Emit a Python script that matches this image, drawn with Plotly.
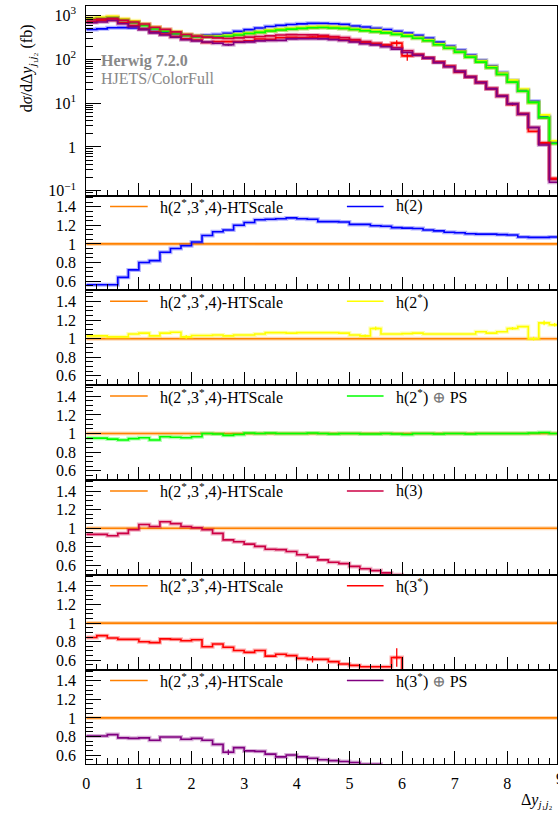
import numpy as np
import plotly.graph_objects as go

# bins of Delta y_j1j2, width 0.2 from 0 to 9
edges = np.round(np.arange(0, 9.001, 0.2), 2)

# reference h(2*,3*,4)-HTScale, dsigma/dDy in fb
ref_xs = [850, 880, 930, 820, 715, 610, 525, 450, 400, 360,
          335, 325, 325, 340, 360, 385, 410, 440, 465, 485,
          505, 520, 530, 520, 505, 475, 450, 425, 400, 370,
          340, 300, 265, 215, 178, 145, 112, 86, 64, 45,
          30, 18.6, 10.3, 4.6, 1.2]

# ratios to the reference
r_h2 = [0.56, 0.56, 0.56, 0.64, 0.72, 0.80, 0.82, 0.91, 0.95, 0.98,
        1.02, 1.09, 1.13, 1.15, 1.20, 1.23, 1.26, 1.265, 1.27, 1.28,
        1.27, 1.265, 1.24, 1.24, 1.235, 1.21, 1.21, 1.195, 1.19, 1.175,
        1.17, 1.165, 1.15, 1.14, 1.125, 1.12, 1.11, 1.105, 1.105, 1.10,
        1.095, 1.075, 1.07, 1.07, 1.075]
r_h2s = [1.03, 1.03, 1.02, 1.02, 1.05, 1.06, 1.03, 1.06, 1.07, 1.02,
         1.035, 1.035, 1.04, 1.03, 1.04, 1.04, 1.05, 1.065, 1.065, 1.06,
         1.065, 1.065, 1.065, 1.065, 1.06, 1.04, 1.03, 1.11, 1.05, 1.05,
         1.055, 1.06, 1.05, 1.05, 1.05, 1.05, 1.05, 1.075, 1.06, 1.075,
         1.11, 1.13, 1.0, 1.17, 1.15]
r_h2s_ps = [0.95, 0.95, 0.94, 0.93, 0.945, 0.955, 0.93, 0.965, 0.96, 0.955,
            0.965, 1.0, 0.995, 0.98, 0.99, 1.005, 1.0, 1.005, 1.0, 1.0,
            1.0, 1.005, 1.0, 0.995, 1.0, 1.0, 0.995, 0.995, 1.0, 0.995,
            0.99, 1.0, 1.0, 0.995, 1.0, 1.0, 0.995, 1.0, 1.0, 1.0,
            1.0, 1.0, 1.005, 1.01, 1.0]
r_h3 = [0.935, 0.935, 0.92, 0.945, 0.985, 1.04, 1.02, 1.07, 1.05, 1.02,
        1.005, 0.985, 0.945, 0.875, 0.855, 0.83, 0.805, 0.775, 0.77, 0.75,
        0.715, 0.69, 0.66, 0.635, 0.62, 0.59, 0.565, 0.545, 0.52, 0.50,
        0.46, 0.43, 0.41, 0.40, 0.39, 0.37, 0.36, 0.35, 0.34, 0.33,
        0.32, 0.31, 0.27, 0.26, 0.15]
r_h3s = [0.845, 0.865, 0.84, 0.825, 0.825, 0.80, 0.79, 0.83, 0.825, 0.81,
         0.82, 0.745, 0.775, 0.74, 0.705, 0.685, 0.705, 0.645, 0.665, 0.65,
         0.62, 0.61, 0.61, 0.585, 0.56, 0.545, 0.53, 0.53, 0.53, 0.63,
         0.35, 0.42, 0.40, 0.40, 0.39, 0.35, 0.35, 0.34, 0.33, 0.32,
         0.31, 0.30, 0.22, 0.27, 0.16]
r_h3s_ps = [0.805, 0.805, 0.82, 0.785, 0.78, 0.785, 0.76, 0.795, 0.795, 0.77,
            0.78, 0.76, 0.715, 0.63, 0.68, 0.645, 0.64, 0.61, 0.58, 0.60,
            0.58, 0.565, 0.55, 0.54, 0.53, 0.52, 0.50, 0.50, 0.48, 0.46,
            0.42, 0.41, 0.40, 0.39, 0.38, 0.36, 0.35, 0.34, 0.33, 0.32,
            0.32, 0.30, 0.27, 0.24, 0.13]

# statistical errors (ratio units), only visible ones
err_h2s = {9: 0.02, 26: 0.015, 27: 0.02, 40: 0.015, 42: 0.02, 43: 0.025, 44: 0.02}
err_h3s = {21: 0.035, 29: 0.1, 30: 0.08, 40: 0.02}
err_h3s_ps = {13: 0.03, 40: 0.02}

series = [
    ("h(2)", "#0000ff", r_h2, {}),
    ("h(2<sup>*</sup>)", "#ffff00", r_h2s, err_h2s),
    ("h(2<sup>*</sup>) <span style='color:#777'>⊕</span> PS", "#00ff00", r_h2s_ps, {}),
    ("h(3)", "#cc0044", r_h3, {}),
    ("h(3<sup>*</sup>)", "#ff0000", r_h3s, err_h3s),
    ("h(3<sup>*</sup>) <span style='color:#777'>⊕</span> PS", "#800080", r_h3s_ps, err_h3s_ps),
]
ref_name = "h(2<sup>*</sup>,3<sup>*</sup>,4)-HTScale"
ref_color = "#ff8000"

W, H = 558, 817
X0 = 83
XMAX = (W - X0) / 53.1
tops = [4, 195, 290.5, 386, 481.5, 577, 672.5]
bots = [195, 290.5, 386, 481.5, 577, 672.5, 768]
FONT = "Liberation Serif, DejaVu Serif, serif"


def step(vals):
    return list(edges), list(vals) + [vals[-1]]


def add_line(fig, vals, color, k):
    xs, ys = step(vals)
    ax = dict(xaxis="x" if k == 1 else "x%d" % k, yaxis="y" if k == 1 else "y%d" % k)
    fig.add_trace(go.Scatter(x=xs, y=ys, mode="lines", line=dict(color=color, width=4, shape="hv"),
                             opacity=0.3, hoverinfo="skip", **ax))
    fig.add_trace(go.Scatter(x=xs, y=ys, mode="lines", line=dict(color=color, width=1.6, shape="hv"),
                             hoverinfo="skip", **ax))


def add_err(fig, vals, errs, color, k):
    if not errs:
        return
    idx = sorted(errs)
    cx = [(edges[i] + edges[i + 1]) / 2 for i in idx]
    cy = [vals[i] for i in idx]
    ey = [errs[i] * (ref_xs[i] if k == 1 else 1) for i in idx]
    ax = dict(xaxis="x" if k == 1 else "x%d" % k, yaxis="y" if k == 1 else "y%d" % k)
    fig.add_trace(go.Scatter(x=cx, y=cy, mode="markers", marker=dict(size=1, color=color),
                             error_y=dict(type="data", array=ey, color=color, thickness=1.3, width=0),
                             error_x=dict(type="constant", value=0.07, color=color, thickness=1.3, width=0),
                             hoverinfo="skip", **ax))


fig = go.Figure()

# top panel
add_line(fig, ref_xs, ref_color, 1)
for name, col, r, e in series:
    xs = [a * b for a, b in zip(ref_xs, r)]
    add_line(fig, xs, col, 1)
    add_err(fig, xs, e, col, 1)

# ratio panels
for k, (name, col, r, e) in enumerate(series, start=2):
    add_line(fig, [1.0] * len(ref_xs), ref_color, k)
    add_line(fig, r, col, k)
    add_err(fig, r, e, col, k)

layout = dict(width=W, height=H, margin=dict(l=0, r=0, t=0, b=0),
              paper_bgcolor="white", plot_bgcolor="white", showlegend=False,
              font=dict(family=FONT, size=15, color="black"))

minor_log = [m * 10.0 ** d for d in range(-2, 4) for m in range(2, 10)]
for k in range(1, 8):
    xn = "xaxis" if k == 1 else "xaxis%d" % k
    yn = "yaxis" if k == 1 else "yaxis%d" % k
    dom = [(H - bots[k - 1]) / H, (H - tops[k - 1]) / H]
    layout[xn] = dict(domain=[X0 / W, 1], range=[0, XMAX], anchor="y" if k == 1 else "y%d" % k,
                      showline=True, linecolor="black", linewidth=1, mirror=True,
                      ticks="inside", ticklen=13, tickcolor="black", tick0=0, dtick=1,
                      minor=dict(ticks="inside", ticklen=6, tickcolor="black", dtick=0.2, tick0=0),
                      showgrid=False, zeroline=False, showticklabels=(k == 7),
                      tickfont=dict(family=FONT, size=16), ticklabelstandoff=4)
    if k > 1:
        layout[xn]["matches"] = "x"
    if k == 1:
        layout[yn] = dict(domain=dom, type="log", range=[-1.11, 3.215], anchor="x",
                          tickvals=[0.1, 1, 10, 100, 1000],
                          ticktext=["10<sup>−1</sup>", "1", "10<sup>1</sup>", "10<sup>2</sup>", "10<sup>3</sup>"],
                          ticks="inside", ticklen=15, tickcolor="black",
                          minor=dict(ticks="inside", ticklen=7, tickcolor="black", tickmode="array",
                                     tickvals=minor_log),
                          showline=True, linecolor="black", linewidth=1, mirror=True,
                          showgrid=False, zeroline=False, tickfont=dict(family=FONT, size=16),
                          ticklabelstandoff=6)
    else:
        layout[yn] = dict(domain=dom, range=[0.5, 1.52], anchor="x%d" % k,
                          tickvals=[0.6, 0.8, 1, 1.2, 1.4], ticktext=["0.6", "0.8", "1", "1.2", "1.4"],
                          ticks="inside", ticklen=15, tickcolor="black",
                          minor=dict(ticks="inside", ticklen=7, tickcolor="black", dtick=0.05, tick0=0.5),
                          showline=True, linecolor="black", linewidth=1, mirror=True,
                          showgrid=False, zeroline=False, tickfont=dict(family=FONT, size=16),
                          ticklabelstandoff=6)

fig.update_layout(**layout)


def py(p):
    return (H - p) / H


shapes = []
ann = []
for k, (name, col, r, e) in enumerate(series, start=2):
    yl = py(tops[k - 1] + 11)
    shapes.append(dict(type="line", xref="paper", yref="paper", x0=107 / W, x1=145 / W, y0=yl, y1=yl,
                       line=dict(color=ref_color, width=1.5)))
    shapes.append(dict(type="line", xref="paper", yref="paper", x0=346 / W, x1=383 / W, y0=yl, y1=yl,
                       line=dict(color=col, width=1.5)))
    ann.append(dict(text=ref_name, x=155 / W, y=yl, xref="paper", yref="paper", xanchor="left",
                    yanchor="middle", showarrow=False, font=dict(size=16)))
    ann.append(dict(text=name, x=394 / W, y=yl, xref="paper", yref="paper", xanchor="left",
                    yanchor="middle", showarrow=False, font=dict(size=16)))

ann.append(dict(text="<b>Herwig 7.2.0</b>", x=96 / W, y=py(59), xref="paper", yref="paper",
                xanchor="left", yanchor="middle", showarrow=False, font=dict(size=16, color="#888888")))
ann.append(dict(text="HJETS/ColorFull", x=96 / W, y=py(77), xref="paper", yref="paper",
                xanchor="left", yanchor="middle", showarrow=False, font=dict(size=16, color="#888888")))
ann.append(dict(text="d<i>σ</i>/dΔ<i>y</i><sub><i>j</i>₁<i>j</i>₂</sub> (fb)", x=24 / W, y=py(67),
                xref="paper", yref="paper", textangle=-90, xanchor="center", yanchor="middle",
                showarrow=False, font=dict(size=16)))
ann.append(dict(text="Δ<i>y</i><sub><i>j</i>₁<i>j</i>₂</sub>", x=520 / W, y=py(804), xref="paper",
                yref="paper", xanchor="left", yanchor="middle", showarrow=False, font=dict(size=16)))
ann.append(dict(text="9", x=561 / W, y=py(782), xref="paper", yref="paper", xanchor="center",
                yanchor="middle", showarrow=False, font=dict(size=16)))

fig.update_layout(shapes=shapes, annotations=ann)
# page without body margin so the figure sits at the window's corner
fig.write_html("out.html", config={"displayModeBar": False},
               post_script="document.body.style.margin='0';document.body.style.overflow='hidden';")
